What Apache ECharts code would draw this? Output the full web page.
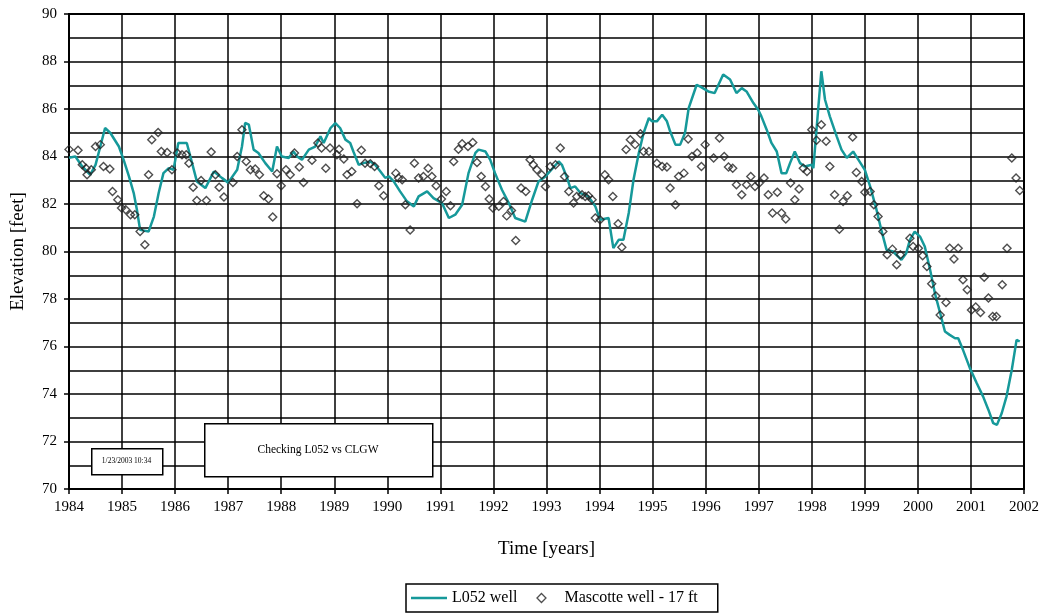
<!DOCTYPE html>
<html>
<head>
<meta charset="utf-8">
<script src="https://cdn.jsdelivr.net/npm/echarts@6/dist/echarts.min.js"></script>
<style>
html,body{margin:0;padding:0;background:#fff;}
#chart{width:1044px;height:615px;}
</style>
</head>
<body>
<div id="chart"></div>
<script>
// ---- Data ----
const yearTicks = [1984,1985,1986,1987,1988,1989,1990,1991,1992,1993,1994,1995,1996,1997,1998,1999,2000,2001,2002];
const elevTicks = [70,72,74,76,78,80,82,84,86,88,90];

const l052Time = [1984.00,1984.12,1984.25,1984.40,1984.50,1984.59,1984.68,1984.78,1984.94,1985.03,1985.13,1985.22,1985.28,1985.34,1985.50,1985.60,1985.69,1985.78,1985.88,1985.97,1986.06,1986.22,1986.32,1986.41,1986.57,1986.73,1986.88,1987.00,1987.17,1987.26,1987.32,1987.39,1987.48,1987.57,1987.70,1987.83,1987.92,1988.01,1988.14,1988.23,1988.30,1988.39,1988.52,1988.64,1988.74,1988.80,1988.93,1989.02,1989.11,1989.21,1989.30,1989.36,1989.46,1989.55,1989.68,1989.77,1989.87,1989.96,1990.03,1990.12,1990.24,1990.37,1990.50,1990.59,1990.75,1990.87,1991.03,1991.16,1991.28,1991.41,1991.53,1991.66,1991.72,1991.85,1991.94,1992.03,1992.16,1992.29,1992.41,1992.60,1992.73,1992.85,1992.98,1993.23,1993.29,1993.39,1993.45,1993.54,1993.64,1993.79,1993.92,1994.01,1994.17,1994.26,1994.36,1994.45,1994.55,1994.64,1994.74,1994.83,1994.93,1994.99,1995.08,1995.18,1995.27,1995.33,1995.43,1995.52,1995.61,1995.68,1995.83,1995.89,1996.05,1996.17,1996.33,1996.46,1996.58,1996.68,1996.77,1996.90,1996.99,1997.05,1997.15,1997.24,1997.34,1997.43,1997.52,1997.59,1997.68,1997.78,1997.87,1998.00,1998.03,1998.12,1998.18,1998.25,1998.34,1998.47,1998.56,1998.66,1998.78,1998.88,1999.00,1999.10,1999.22,1999.31,1999.41,1999.53,1999.69,1999.78,1999.85,1999.94,2000.04,2000.13,2000.23,2000.32,2000.42,2000.51,2000.60,2000.70,2000.76,2000.85,2000.98,2001.11,2001.23,2001.33,2001.42,2001.49,2001.58,2001.67,2001.77,2001.86,2001.92];
const l052Elev = [83.95,84.0,83.58,83.23,83.65,84.42,85.2,84.99,84.42,83.86,83.16,82.46,81.76,80.91,80.84,81.47,82.46,83.30,83.51,83.44,84.57,84.57,83.72,82.95,82.67,83.37,83.1,82.9,83.44,84.42,85.41,85.34,84.29,84.15,83.72,83.37,84.42,84.0,83.94,84.21,84.0,83.86,84.29,84.42,84.85,84.57,85.2,85.41,85.2,84.71,84.57,84.21,83.65,83.72,83.79,83.65,83.37,83.1,83.16,82.95,82.53,82.11,81.90,82.32,82.53,82.25,82.04,81.41,81.55,81.97,83.30,84.15,84.29,84.21,83.86,83.30,82.60,82.04,81.41,81.26,82.18,82.95,83.16,83.79,83.65,83.09,82.67,82.74,82.46,82.32,81.90,81.34,81.41,80.14,80.49,80.49,81.62,83.02,84.15,84.99,85.62,85.48,85.48,85.76,85.48,85.06,84.50,84.50,84.99,86.04,87.02,86.95,86.74,86.67,87.45,87.24,86.67,86.88,86.74,86.25,85.97,85.69,85.13,84.57,84.21,83.30,83.30,83.72,84.21,83.72,83.58,83.65,83.51,85.97,87.59,86.39,85.69,84.85,84.29,83.94,84.21,83.86,83.44,82.74,81.76,80.91,80.07,80.0,79.65,79.93,80.49,80.84,80.63,80.21,79.23,78.25,77.40,76.63,76.49,76.35,76.35,75.86,75.09,74.45,73.89,73.33,72.77,72.70,73.19,73.89,75.02,76.28,76.21];

const mascTime = [1984.00,1984.17,1984.25,1984.32,1984.34,1984.42,1984.50,1984.59,1984.65,1984.77,1984.82,1984.92,1984.99,1985.07,1985.16,1985.24,1985.34,1985.43,1985.50,1985.56,1985.68,1985.74,1985.85,1985.94,1986.04,1986.13,1986.21,1986.26,1986.34,1986.41,1986.49,1986.59,1986.68,1986.76,1986.83,1986.92,1987.09,1987.17,1987.26,1987.34,1987.42,1987.51,1987.59,1987.67,1987.76,1987.84,1987.92,1988.00,1988.09,1988.17,1988.25,1988.34,1988.42,1988.58,1988.69,1988.76,1988.84,1988.92,1989.05,1989.09,1989.18,1989.24,1989.33,1989.43,1989.51,1989.58,1989.68,1989.76,1989.84,1989.93,1990.16,1990.21,1990.28,1990.34,1990.43,1990.51,1990.59,1990.68,1990.77,1990.84,1990.92,1991.02,1991.11,1991.19,1991.25,1991.34,1991.41,1991.52,1991.61,1991.69,1991.77,1991.85,1991.92,1991.99,1992.10,1992.19,1992.25,1992.34,1992.42,1992.52,1992.61,1992.69,1992.75,1992.82,1992.91,1992.98,1993.07,1993.17,1993.26,1993.34,1993.42,1993.51,1993.57,1993.67,1993.73,1993.79,1993.86,1993.92,1994.01,1994.10,1994.17,1994.25,1994.35,1994.42,1994.50,1994.58,1994.67,1994.77,1994.83,1994.93,1995.08,1995.18,1995.27,1995.33,1995.43,1995.49,1995.59,1995.67,1995.74,1995.84,1995.92,1995.99,1996.15,1996.26,1996.35,1996.43,1996.51,1996.58,1996.68,1996.77,1996.85,1996.93,1997.01,1997.10,1997.18,1997.26,1997.35,1997.43,1997.51,1997.60,1997.68,1997.76,1997.84,1997.91,1998.00,1998.09,1998.18,1998.27,1998.34,1998.43,1998.52,1998.59,1998.67,1998.77,1998.84,1998.94,1999.00,1999.10,1999.17,1999.25,1999.34,1999.42,1999.52,1999.60,1999.67,1999.85,1999.91,2000.01,2000.09,2000.17,2000.26,2000.34,2000.42,2000.53,2000.60,2000.68,2000.76,2000.85,2000.93,2001.01,2001.09,2001.18,2001.25,2001.33,2001.41,2001.48,2001.59,2001.68,2001.77,2001.85,2001.92];
const mascElev = [84.3,84.26,83.65,83.51,83.23,83.44,84.42,84.50,83.58,83.47,82.53,82.18,81.83,81.76,81.55,81.55,80.84,80.28,83.23,84.71,85.01,84.21,84.17,83.44,84.15,84.07,84.07,83.72,82.71,82.15,82.99,82.15,84.19,83.23,82.71,82.29,82.91,84.0,85.13,83.79,83.44,83.47,83.23,82.35,82.21,81.45,83.27,82.77,83.44,83.23,84.15,83.56,82.91,83.84,84.57,84.36,83.51,84.36,84.07,84.31,83.89,83.23,83.37,82.01,84.26,83.72,83.70,83.58,82.77,82.35,83.30,83.09,83.02,81.97,80.91,83.72,83.09,83.16,83.51,83.16,82.77,82.21,82.53,81.93,83.79,84.31,84.54,84.42,84.59,83.75,83.16,82.74,82.21,81.83,81.90,82.11,81.50,81.73,80.46,82.67,82.53,83.86,83.65,83.44,83.23,82.74,83.58,83.65,84.36,83.16,82.53,82.04,82.32,82.39,82.32,82.35,82.18,81.41,81.34,83.23,83.02,82.32,81.17,80.18,84.29,84.71,84.50,84.96,84.21,84.21,83.72,83.58,83.56,82.67,81.97,83.16,83.30,84.74,84.0,84.15,83.58,84.50,83.94,84.78,84.0,83.56,83.51,82.81,82.39,82.81,83.16,82.74,82.88,83.09,82.39,81.62,82.49,81.62,81.37,82.88,82.18,82.63,83.51,83.37,85.13,84.68,85.34,84.64,83.58,82.39,80.94,82.11,82.35,84.82,83.33,82.95,82.49,82.53,81.97,81.47,80.84,79.86,80.10,79.44,79.86,80.56,80.21,80.14,79.82,79.37,78.64,78.13,77.33,77.85,80.14,79.68,80.14,78.81,78.39,77.54,77.66,77.43,78.92,78.04,77.26,77.26,78.60,80.14,83.94,83.09,82.57];

const seriesNames = ['L052 well', 'Mascotte well - 17 ft'];
const chartTitleBox = 'Checking L052 vs CLGW';
const stampBox = '1/23/2003 10:34';

const l052Data = l052Time.map((t, i) => [t, l052Elev[i]]);
const mascData = mascTime.map((t, i) => [t, mascElev[i]]);

const SERIF = '"Liberation Serif", "Times New Roman", serif';
const TEAL = '#16999a';
const chart = echarts.init(document.getElementById('chart'), null, {renderer: 'canvas'});

chart.setOption({
  backgroundColor: '#fff',
  animation: false,
  textStyle: {fontFamily: SERIF, color: '#000'},
  grid: {left: 69, right: 20, top: 14, bottom: 126, show: true, borderColor: '#000', borderWidth: 2, backgroundColor: 'transparent'},
  xAxis: {
    type: 'value', min: yearTicks[0], max: yearTicks[yearTicks.length - 1], interval: 1,
    name: 'Time [years]', nameLocation: 'middle', nameGap: 51,
    nameTextStyle: {fontFamily: SERIF, fontSize: 19, color: '#000'},
    axisLine: {show: true, onZero: false, lineStyle: {color: '#000', width: 2}},
    axisTick: {show: true, length: 5, lineStyle: {color: '#000', width: 1.5}},
    axisLabel: {fontFamily: SERIF, fontSize: 15, color: '#000', margin: 11, formatter: v => String(v)},
    splitLine: {show: true, lineStyle: {color: '#000', width: 1.5}}
  },
  yAxis: {
    type: 'value', min: elevTicks[0], max: elevTicks[elevTicks.length - 1], interval: 2,
    name: 'Elevation [feet]', nameLocation: 'middle', nameGap: 41, nameRotate: 90,
    nameTextStyle: {fontFamily: SERIF, fontSize: 19, color: '#000'},
    axisLine: {show: true, onZero: false, lineStyle: {color: '#000', width: 2}},
    axisTick: {show: true, length: 5, lineStyle: {color: '#000', width: 1.5}},
    axisLabel: {fontFamily: SERIF, fontSize: 15, color: '#000', margin: 12},
    splitLine: {show: true, lineStyle: {color: '#000', width: 1.5}},
    minorTick: {show: false, splitNumber: 2},
    minorSplitLine: {show: true, lineStyle: {color: '#000', width: 1.5}}
  },
  legend: {
    left: 406, top: 584,
    orient: 'horizontal',
    borderColor: '#000', borderWidth: 1.5, backgroundColor: '#fff',
    padding: [6, 20, 6, 5],
    itemWidth: 36, itemHeight: 9, itemGap: 19,
    symbolKeepAspect: true,
    textStyle: {fontFamily: SERIF, fontSize: 16, color: '#000'},
    data: [
      {name: seriesNames[0], icon: 'path://M0,0H36V2.6H0Z', itemStyle: {color: TEAL, borderWidth: 0}},
      {name: seriesNames[1], icon: 'path://M4,0L8,4L4,8L0,4Z', itemStyle: {color: 'rgba(255,255,255,0)', borderColor: '#222', borderWidth: 1.3}}
    ]
  },
  graphic: [
    {type: 'rect', left: 91, top: 448, z: 100, shape: {width: 71, height: 26}, style: {fill: '#fff', stroke: '#000', lineWidth: 1.5}},
    {type: 'text', x: 126.5, y: 461, z: 101, style: {text: stampBox, fontFamily: SERIF, fontSize: 7.5, fill: '#000', align: 'center', verticalAlign: 'middle'}},
    {type: 'rect', left: 204, top: 423, z: 100, shape: {width: 228, height: 53}, style: {fill: '#fff', stroke: '#000', lineWidth: 1.5}},
    {type: 'text', x: 318, y: 450, z: 101, style: {text: chartTitleBox, fontFamily: SERIF, fontSize: 11.5, fill: '#000', align: 'center', verticalAlign: 'middle'}}
  ],
  series: [
    {
      name: seriesNames[0], type: 'line', data: l052Data,
      symbol: 'none', showSymbol: false, smooth: false, z: 3,
      lineStyle: {color: TEAL, width: 2.5},
      itemStyle: {color: TEAL}
    },
    {
      name: seriesNames[1], type: 'scatter', data: mascData,
      symbol: 'diamond', symbolSize: 8, z: 4,
      itemStyle: {color: 'rgba(255,255,255,0)', borderColor: '#222', borderWidth: 1.4}
    }
  ]
});
</script>
</body>
</html>
